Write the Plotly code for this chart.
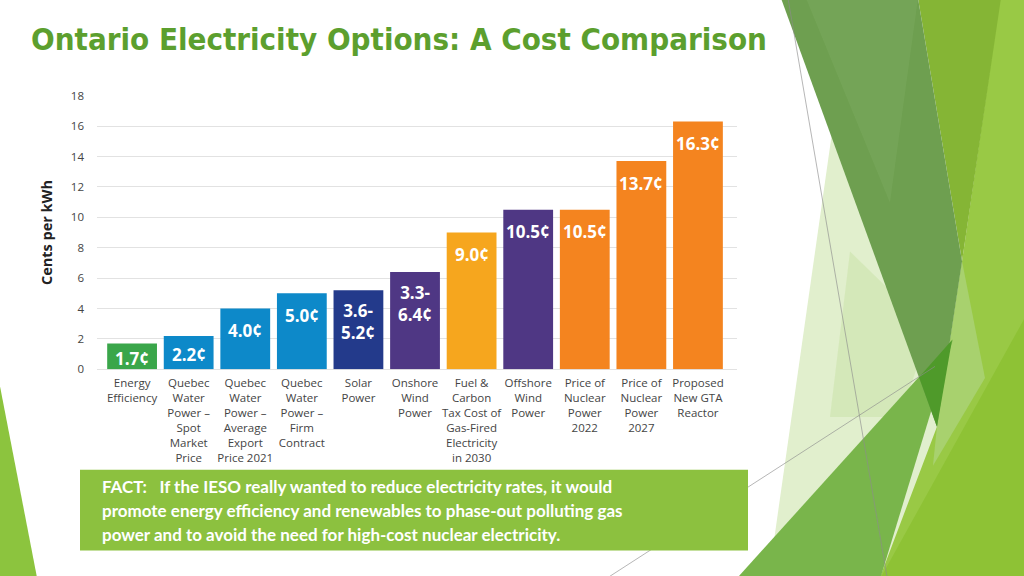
import plotly.graph_objects as go

W, H = 1024, 576

# ---------------- data ----------------
categories = [
    "Energy<br>Efficiency",
    "Quebec<br>Water<br>Power –<br>Spot<br>Market<br>Price",
    "Quebec<br>Water<br>Power –<br>Average<br>Export<br>Price 2021",
    "Quebec<br>Water<br>Power –<br>Firm<br>Contract",
    "Solar<br>Power",
    "Onshore<br>Wind<br>Power",
    "Fuel &<br>Carbon<br>Tax Cost of<br>Gas-Fired<br>Electricity<br>in 2030",
    "Offshore<br>Wind<br>Power",
    "Price of<br>Nuclear<br>Power<br>2022",
    "Price of<br>Nuclear<br>Power<br>2027",
    "Proposed<br>New GTA<br>Reactor",
]
values = [1.7, 2.2, 4.0, 5.0, 5.2, 6.4, 9.0, 10.5, 10.5, 13.7, 16.3]
value_labels = ["1.7¢", "2.2¢", "4.0¢", "5.0¢", "3.6-<br>5.2¢", "3.3-<br>6.4¢",
                "9.0¢", "10.5¢", "10.5¢", "13.7¢", "16.3¢"]
y_ticks = [0, 2, 4, 6, 8, 10, 12, 14, 16, 18]

title_text = "Ontario Electricity Options: A Cost Comparison"
y_title = "Cents per kWh"
fact_lines = [
    "FACT:\u00a0\u00a0 If the IESO really wanted to reduce electricity rates, it would",
    "promote energy efficiency and renewables to phase-out polluting gas",
    "power and to avoid the need for high-cost nuclear electricity.",
]

# ---------------- style ----------------
bar_colors = ["#3aa64a", "#0d89c9", "#0d89c9", "#0d89c9", "#233a8b", "#4f3784",
              "#f6a61e", "#4f3784", "#f4841f", "#f4841f", "#f4841f"]

plot_left, plot_right, plot_top, plot_bottom = 97, 737, 90, 371
ymax = 18
px_per_unit = (plot_bottom - plot_top) / ymax


def px(x, y):
    return x / W, 1 - y / H


def path(points):
    s = ""
    for i, (x, y) in enumerate(points):
        a, b = px(x, y)
        s += ("M" if i == 0 else "L") + f"{a:.4f},{b:.4f} "
    return s + "Z"


fig = go.Figure()
fig.add_trace(go.Bar(
    x=categories, y=values, marker=dict(color=bar_colors, line=dict(width=0)),
    width=0.88, hoverinfo="skip", showlegend=False,
))

annotations = []
for cat, v, lab in zip(categories, values, value_labels):
    nlines = lab.count("<br>") + 1
    bar_h = v * px_per_unit
    shift = min(22 + 9 * (nlines - 1), 0.55 * bar_h)
    annotations.append(dict(
        x=cat, y=v, xref="x", yref="y", text=lab, showarrow=False,
        yanchor="middle", yshift=-shift,
        font=dict(family="Open Sans", size=17, color="white", weight=700),
    ))

# fact text
for i, line in enumerate(fact_lines):
    a, b = px(100, 491 + 25 * i)
    annotations.append(dict(
        x=a, y=b, xref="paper", yref="paper", text=line, showarrow=False,
        xanchor="left", yanchor="middle",
        font=dict(family="Lato", size=17, color="white", weight=700),
    ))

# title
tx, ty = px(29, 32)
annotations.append(dict(
    x=tx, y=ty, xref="paper", yref="paper", text=title_text, showarrow=False,
    xanchor="left", yanchor="middle",
    font=dict(family="DejaVu Sans Condensed, Open Sans, sans-serif", size=31,
              color="#5c9f2e", weight=700),
))

shapes = []
deco = [
    ([(-10, 335), (38, 590), (-10, 590)], "#8cc43e"),
    ([(832, 128), (960, 430), (895, 590), (768, 590)], "#e1efcd"),
    ([(850, 250), (930, 330), (900, 420), (830, 420)], "rgba(190,220,150,0.35)"),
    ([(1000, -10), (1040, -10), (1040, 590), (878, 590), (937, 430), (962, 260)], "#99c945"),
    ([(878, 590), (1040, 290), (1040, 590)], "#8ec235"),
    ([(962, 260), (985, 380), (933, 470), (937, 430)], "#a8d16e"),
    ([(733, 590), (953, 340), (879, 590)], "#79b54b"),
    ([(918, -10), (1001, -10), (962, 260)], "#85b535"),
    ([(781, -10), (918, -10), (962, 260), (937, 430)], "#6e9f50"),
    ([(806, -10), (918, -10), (890, 200)], "rgba(130,175,100,0.35)"),
    ([(919, 379), (952, 341), (937, 430)], "#4f9a2a"),
]
for pts, col in deco:
    shapes.append(dict(type="path", xref="paper", yref="paper", path=path(pts),
                       fillcolor=col, line=dict(width=0), layer="above"))

for (x0, y0), (x1, y1) in [((788, -10), (888, 590)), ((600, 590), (935, 368))]:
    a0, b0 = px(x0, y0)
    a1, b1 = px(x1, y1)
    shapes.append(dict(type="line", xref="paper", yref="paper", x0=a0, y0=b0, x1=a1, y1=b1,
                       line=dict(color="rgba(140,140,140,0.8)", width=0.8), layer="above"))

# fact box
a0, b0 = px(80, 474)
a1, b1 = px(748, 557)
shapes.append(dict(type="rect", xref="paper", yref="paper", x0=a0, y0=b1, x1=a1, y1=b0,
                   fillcolor="#8cc13f", line=dict(width=0), layer="above"))

fig.update_layout(
    width=W, height=H, autosize=False,
    margin=dict(l=0, r=0, t=0, b=0),
    paper_bgcolor="white", plot_bgcolor="white",
    bargap=0.12,
    xaxis=dict(
        domain=[plot_left / W, plot_right / W],
        range=[-0.62, 10.69],
        tickfont=dict(family="Open Sans", size=11.5, color="#444444"),
        showgrid=False, zeroline=False, showline=False, ticks="",
        ticklabelstandoff=5, fixedrange=True,
    ),
    yaxis=dict(
        domain=[1 - plot_bottom / H, 1 - plot_top / H],
        range=[0, ymax], tickvals=y_ticks,
        tickfont=dict(family="Open Sans", size=11.5, color="#444444"),
        showgrid=True, gridcolor="#e2e2e2", gridwidth=1.2,
        zeroline=True, zerolinecolor="#e2e2e2", zerolinewidth=1.2,
        ticks="", ticklabelstandoff=12,
        title=dict(text=y_title, standoff=14,
                   font=dict(family="Open Sans", size=14.5, color="#222222", weight=700)),
        fixedrange=True,
    ),
    annotations=annotations,
    shapes=shapes,
)

fig.write_html(
    "out.html",
    config={"displayModeBar": False},
    post_script="document.body.style.margin='0';document.body.style.overflow='hidden';",
)
